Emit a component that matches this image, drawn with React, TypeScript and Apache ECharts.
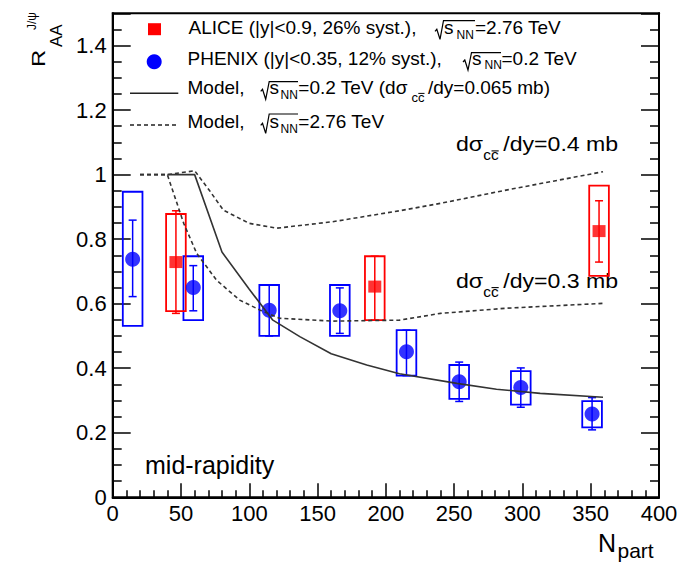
import React, { useEffect, useRef } from 'react';
import * as echarts from 'echarts';

// ---------------- data ----------------
const phenixNpart = [14.6, 59.0, 114.6, 166.3, 215.1, 253.7, 298.8, 351.0];
const phenixRaa = [0.738, 0.650, 0.580, 0.578, 0.451, 0.358, 0.340, 0.258];
const phenixStatLo = [0.622, 0.578, 0.500, 0.508, 0.377, 0.297, 0.279, 0.209];
const phenixStatHi = [0.859, 0.718, 0.658, 0.649, 0.518, 0.419, 0.401, 0.309];
const phenixSystLo = [0.531, 0.549, 0.500, 0.500, 0.377, 0.305, 0.287, 0.217];
const phenixSystHi = [0.947, 0.747, 0.658, 0.658, 0.518, 0.410, 0.391, 0.298];

const aliceNpart = [46.3, 191.9, 356.1];
const aliceRaa = [0.729, 0.653, 0.825];
const aliceStatLo = [0.570, 0.549, 0.729];
const aliceStatHi = [0.888, 0.747, 0.919];
const aliceSystLo = [0.577, 0.549, 0.686];
const aliceSystHi = [0.878, 0.747, 0.966];

const modelRhicN = [40, 60, 80, 100, 117, 137, 160, 186, 210, 252, 281, 313, 359];
const modelRhicR = [1.0, 1.0, 0.76, 0.645, 0.55, 0.498, 0.445, 0.41, 0.383, 0.353, 0.335, 0.322, 0.31];

const modelLhc04N = [20, 40, 60, 71, 81, 100, 120, 161, 210, 240, 288, 359];
const modelLhc04R = [1.0, 1.0, 1.012, 0.95, 0.89, 0.849, 0.834, 0.854, 0.888, 0.911, 0.952, 1.009];

const modelLhc03N = [20, 40, 52, 61.5, 76, 93, 108, 122, 161, 210, 240, 288, 359];
const modelLhc03R = [1.0, 1.0, 0.849, 0.756, 0.673, 0.611, 0.58, 0.555, 0.546, 0.549, 0.57, 0.586, 0.601];

// ---------------- styles ----------------
const FONT = "'Liberation Sans', Arial, Helvetica, sans-serif";
const BLUE = '#0000ff';
const RED = '#ff0000';
const CURVE = '#333333';
const BOX_HALF = 7.2; // data units
const CAP = 4; // px

const zip = (a: number[], b: number[]) => a.map((v, i) => [v, b[i]]);
const zip3 = (a: number[], b: number[], c: number[]) => a.map((v, i) => [v, b[i], c[i]]);

const boxRender = (color: string) => (params: any, api: any) => {
  const x = api.value(0);
  const lo = api.value(1);
  const hi = api.value(2);
  const a = api.coord([x - BOX_HALF, hi]);
  const b = api.coord([x + BOX_HALF, lo]);
  return {
    type: 'rect',
    shape: { x: a[0], y: a[1], width: b[0] - a[0], height: b[1] - a[1] },
    style: { fill: 'none', stroke: color, lineWidth: 1.8 },
  };
};

const errRender = (color: string) => (params: any, api: any) => {
  const x = api.value(0);
  const top = api.coord([x, api.value(2)]);
  const bot = api.coord([x, api.value(1)]);
  const st = { stroke: color, lineWidth: 1.5 };
  return {
    type: 'group',
    children: [
      { type: 'line', shape: { x1: top[0], y1: top[1], x2: bot[0], y2: bot[1] }, style: st },
      { type: 'line', shape: { x1: top[0] - CAP, y1: top[1], x2: top[0] + CAP, y2: top[1] }, style: st },
      { type: 'line', shape: { x1: bot[0] - CAP, y1: bot[1], x2: bot[0] + CAP, y2: bot[1] }, style: st },
    ],
  };
};

function t(x: number, y: number, text: string, size: number, extra: any = {}) {
  return {
    type: 'text',
    x,
    y,
    ...extra,
    style: {
      text,
      fontSize: size,
      fontFamily: FONT,
      fill: '#000',
      align: 'left',
      verticalAlign: 'middle',
      textAlign: 'left',
      textVerticalAlign: 'middle',
    },
  };
}

function sqrtSign(x0: number, yT: number, yB: number, xEnd: number) {
  return {
    type: 'polyline',
    shape: {
      points: [
        [x0, yB - 3],
        [x0 + 1.8, yB - 5],
        [x0 + 5, yB + 5],
        [x0 + 8.5, yT],
        [xEnd, yT],
      ],
    },
    style: { stroke: '#000', lineWidth: 1.2, fill: 'none' },
  };
}

function bar(x1: number, x2: number, y: number, w = 1.2) {
  return { type: 'line', shape: { x1, y1: y, x2, y2: y }, style: { stroke: '#000', lineWidth: w } };
}

const graphicElements: any[] = [
  // legend markers
  { type: 'rect', shape: { x: 148, y: 23.2, width: 13, height: 12 }, style: { fill: RED } },
  { type: 'circle', shape: { cx: 154.2, cy: 61.7, r: 7.5 }, style: { fill: BLUE } },
  { type: 'line', shape: { x1: 130, y1: 93.3, x2: 178.3, y2: 93.3 }, style: { stroke: '#222', lineWidth: 1.5 } },
  { type: 'line', shape: { x1: 130, y1: 125, x2: 178.3, y2: 125 }, style: { stroke: '#222', lineWidth: 1.5, lineDash: [4, 3] } },

  // legend line 1
  t(188.5, 27.7, 'ALICE (|y|<0.9, 26% syst.),', 19),
  sqrtSign(435, 20.7, 34.3, 475),
  t(444, 27.7, 's', 19),
  t(456.5, 34.7, 'NN', 12),
  t(475, 27.7, '=2.76 TeV', 19),

  // legend line 2
  t(187.5, 58.4, 'PHENIX (|y|<0.35, 12% syst.),', 19),
  sqrtSign(463, 52.7, 65, 501),
  t(472, 58.4, 's', 19),
  t(484.5, 65.4, 'NN', 12),
  t(501.5, 58.4, '=0.2 TeV', 19),

  // legend line 3
  t(187.5, 87.7, 'Model,', 19),
  sqrtSign(260.7, 81.7, 94.3, 298),
  t(269.5, 87.7, 's', 19),
  t(280.5, 94.7, 'NN', 12),
  t(298.3, 87.7, '=0.2 TeV (dσ', 19),
  t(411.5, 97.2, 'cc', 13),
  bar(418.3, 424.5, 93.4, 1),
  t(428, 87.7, '/dy=0.065 mb)', 19),

  // legend line 4
  t(187.5, 121.7, 'Model,', 19),
  sqrtSign(260.7, 114, 128.3, 298),
  t(269.5, 121.7, 's', 19),
  t(280.5, 128.7, 'NN', 12),
  t(298.3, 121.7, '=2.76 TeV', 19),

  // annotation 0.4 mb
  t(456, 144.3, 'dσ', 21, { scaleX: 1.1 }),
  t(483.3, 155.1, 'cc', 14, { scaleX: 1.1 }),
  bar(491.5, 498.7, 150.9, 1.1),
  t(503.3, 144.3, '/dy=0.4 mb', 21, { scaleX: 1.1 }),

  // annotation 0.3 mb
  t(456, 281, 'dσ', 21, { scaleX: 1.1 }),
  t(483.3, 291.8, 'cc', 14, { scaleX: 1.1 }),
  bar(491.5, 498.7, 287.6, 1.1),
  t(503.3, 281, '/dy=0.3 mb', 21, { scaleX: 1.1 }),

  // mid-rapidity
  t(145, 464.6, 'mid-rapidity', 25),

  // x-axis title
  t(598, 543, 'N', 25),
  t(617.5, 550.3, 'part', 21),

  // y-axis title (rotated)
  t(39, 67, 'R', 19, { rotation: Math.PI / 2, scaleX: 1.25 }),
  t(56.3, 47, 'AA', 17, { rotation: Math.PI / 2 }),
  t(31.5, 30, 'J/ψ', 12, { rotation: Math.PI / 2 }),
];

const axisCommon = {
  type: 'value',
  splitLine: { show: false },
  axisLine: { show: true, lineStyle: { color: '#000', width: 2 } },
};

const option: any = {
  animation: false,
  backgroundColor: '#fff',
  grid: {
    left: 112.7,
    top: 13.3,
    right: 21,
    bottom: 67.7,
    show: true,
    borderColor: '#000',
    borderWidth: 2,
    outerBoundsMode: 'none',
  },
  xAxis: {
    ...axisCommon,
    min: 0,
    max: 400,
    interval: 50,
    position: 'bottom',
    axisTick: { show: true, inside: true, length: 14, lineStyle: { color: '#000', width: 1.5 } },
    minorTick: { show: true, splitNumber: 5, length: 7, lineStyle: { color: '#000', width: 1.5 } },
    axisLabel: { color: '#000', fontSize: 22, fontFamily: FONT, margin: 5 },
  },
  yAxis: [
    {
      ...axisCommon,
      min: 0,
      max: 1.5,
      interval: 0.2,
      position: 'left',
      axisTick: { show: true, inside: true, length: 18, lineStyle: { color: '#000', width: 1.5 } },
      minorTick: { show: true, splitNumber: 4, length: 9, lineStyle: { color: '#000', width: 1.5 } },
      axisLabel: {
        color: '#000',
        fontSize: 22,
        fontFamily: FONT,
        margin: 6,
        formatter: (v: number) => (v > 1.45 ? '' : String(Math.round(v * 10) / 10)),
      },
    },
    {
      ...axisCommon,
      min: 0,
      max: 1.5,
      interval: 0.2,
      position: 'right',
      axisTick: { show: true, inside: true, length: 18, lineStyle: { color: '#000', width: 1.5 } },
      minorTick: { show: true, splitNumber: 4, length: 9, lineStyle: { color: '#000', width: 1.5 } },
      axisLabel: { show: false },
    },
  ],
  series: [
    {
      type: 'line',
      data: zip(modelLhc04N, modelLhc04R),
      showSymbol: false,
      symbol: 'none',
      lineStyle: { color: CURVE, width: 1.6, type: [4, 3] },
      silent: true,
    },
    {
      type: 'line',
      data: zip(modelLhc03N, modelLhc03R),
      showSymbol: false,
      symbol: 'none',
      lineStyle: { color: CURVE, width: 1.6, type: [4, 3] },
      silent: true,
    },
    {
      type: 'line',
      data: zip(modelRhicN, modelRhicR),
      showSymbol: false,
      symbol: 'none',
      lineStyle: { color: CURVE, width: 1.6 },
      silent: true,
    },
    {
      type: 'custom',
      renderItem: boxRender(BLUE),
      data: zip3(phenixNpart, phenixSystLo, phenixSystHi),
      encode: { x: 0, y: [1, 2] },
      silent: true,
    },
    {
      type: 'custom',
      renderItem: boxRender(RED),
      data: zip3(aliceNpart, aliceSystLo, aliceSystHi),
      encode: { x: 0, y: [1, 2] },
      silent: true,
    },
    {
      type: 'custom',
      renderItem: errRender(BLUE),
      data: zip3(phenixNpart, phenixStatLo, phenixStatHi),
      encode: { x: 0, y: [1, 2] },
      silent: true,
    },
    {
      type: 'custom',
      renderItem: errRender(RED),
      data: zip3(aliceNpart, aliceStatLo, aliceStatHi),
      encode: { x: 0, y: [1, 2] },
      silent: true,
    },
    {
      type: 'scatter',
      data: zip(phenixNpart, phenixRaa),
      symbol: 'circle',
      symbolSize: 15,
      itemStyle: { color: BLUE },
      silent: true,
    },
    {
      type: 'scatter',
      data: zip(aliceNpart, aliceRaa),
      symbol: 'rect',
      symbolSize: [13, 12],
      itemStyle: { color: RED },
      silent: true,
    },
  ],
  graphic: { elements: graphicElements },
};

export default function App() {
  const ref = useRef<HTMLDivElement>(null);
  useEffect(() => {
    const chart = echarts.init(ref.current as HTMLDivElement, null, { renderer: 'svg' });
    chart.setOption(option);
    return () => chart.dispose();
  }, []);
  return (
    <div
      ref={ref}
      style={{ position: 'absolute', left: 0, top: 0, width: 680, height: 565, background: '#fff' }}
    />
  );
}
